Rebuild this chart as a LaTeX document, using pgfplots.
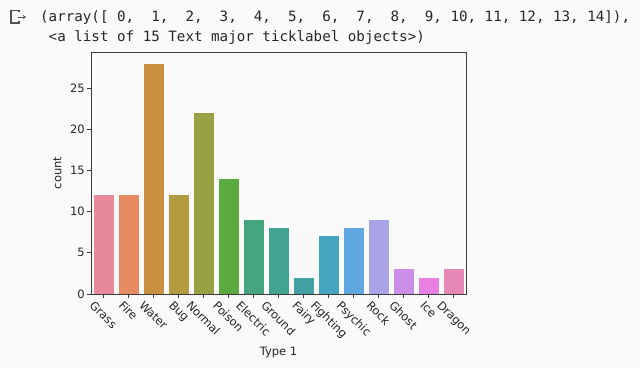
\documentclass[border=0pt]{standalone}
\usepackage{pgfplots}
\pgfplotsset{compat=1.18}
\usetikzlibrary{arrows.meta}
\usepackage{graphicx}
\usepackage{fontspec}
\setmainfont{DejaVu Sans}
\setmonofont{DejaVu Sans Mono}
\definecolor{bg}{RGB}{251,250,251}
\definecolor{txt}{HTML}{262626}
\definecolor{spine}{HTML}{3C3C3C}
\definecolor{c0}{HTML}{E8899B}
\definecolor{c1}{HTML}{E78B63}
\definecolor{c2}{HTML}{C9913F}
\definecolor{c3}{HTML}{B39B3F}
\definecolor{c4}{HTML}{98A141}
\definecolor{c5}{HTML}{5BAA3F}
\definecolor{c6}{HTML}{44A57F}
\definecolor{c7}{HTML}{43A393}
\definecolor{c8}{HTML}{42A1A2}
\definecolor{c9}{HTML}{45A5BE}
\definecolor{c10}{HTML}{60A6E0}
\definecolor{c11}{HTML}{A9A4E6}
\definecolor{c12}{HTML}{CB8EE8}
\definecolor{c13}{HTML}{E97FE0}
\definecolor{c14}{HTML}{E588B5}
\newcommand\R[1]{\rotatebox{-45}{#1}}
\begin{document}
\begin{tikzpicture}
\fill[bg] (0pt,0pt) rectangle (640pt,-368pt);
\path[use as bounding box] (0pt,0pt) rectangle (640pt,-368pt);
% output icon
\draw[txt!80, line width=1.1pt] (19pt,-12pt) -- (19pt,-10.5pt) -- (11pt,-10.5pt) -- (11pt,-23pt) -- (19pt,-23pt) -- (19pt,-21pt);
\draw[txt!80, line width=1pt, -{Stealth[length=3pt,width=4pt]}] (18pt,-17pt) -- (26pt,-17pt);
\node[anchor=base west, inner sep=0pt, text=txt, font=\ttfamily\fontsize{14.2}{16}\selectfont] at (40pt,-21pt)
 {(array([\ 0,\ \ 1,\ \ 2,\ \ 3,\ \ 4,\ \ 5,\ \ 6,\ \ 7,\ \ 8,\ \ 9,\ 10,\ 11,\ 12,\ 13,\ 14]),};
\node[anchor=base west, inner sep=0pt, text=txt, font=\ttfamily\fontsize{14.2}{16}\selectfont] at (40pt,-41pt)
 {\ <a list of 15 Text major ticklabel objects>)};
\begin{axis}[
  at={(91pt,-294pt)}, anchor=south west,
  scale only axis, width=375pt, height=242pt,
  xmin=-0.5, xmax=14.5, ymin=0, ymax=29.4,
  ybar, bar width=20pt,
  xtick={0,...,14},
  xticklabels={\R{Grass},\R{Fire},\R{Water},\R{Bug},\R{Normal},\R{Poison},\R{Electric},\R{Ground},\R{Fairy},\R{Fighting},\R{Psychic},\R{Rock},\R{Ghost},\R{Ice},\R{Dragon}},
  ytick={0,5,10,15,20,25},
  tick pos=left, tick align=outside, major tick length=4pt,
  every tick/.style={spine, line width=0.8pt},
  axis line style={spine, line width=0.8pt},
  ticklabel style={font=\fontsize{11.5}{13}\selectfont, text=txt},
  xticklabel style={anchor=north, inner sep=1pt, yshift=-1pt},
  yticklabel style={inner sep=2pt},
  /pgf/number format/assume math mode=true,
  xlabel={Type 1}, ylabel={count},
  label style={font=\fontsize{11.5}{13}\selectfont, text=txt},
  ylabel style={yshift=3pt},
  xlabel style={yshift=-2pt},
  axis background/.style={fill=bg},
]
\addplot[fill=c0, draw=none, bar shift=0pt] coordinates {(0,12)};
\addplot[fill=c1, draw=none, bar shift=0pt] coordinates {(1,12)};
\addplot[fill=c2, draw=none, bar shift=0pt] coordinates {(2,28)};
\addplot[fill=c3, draw=none, bar shift=0pt] coordinates {(3,12)};
\addplot[fill=c4, draw=none, bar shift=0pt] coordinates {(4,22)};
\addplot[fill=c5, draw=none, bar shift=0pt] coordinates {(5,14)};
\addplot[fill=c6, draw=none, bar shift=0pt] coordinates {(6,9)};
\addplot[fill=c7, draw=none, bar shift=0pt] coordinates {(7,8)};
\addplot[fill=c8, draw=none, bar shift=0pt] coordinates {(8,2)};
\addplot[fill=c9, draw=none, bar shift=0pt] coordinates {(9,7)};
\addplot[fill=c10, draw=none, bar shift=0pt] coordinates {(10,8)};
\addplot[fill=c11, draw=none, bar shift=0pt] coordinates {(11,9)};
\addplot[fill=c12, draw=none, bar shift=0pt] coordinates {(12,3)};
\addplot[fill=c13, draw=none, bar shift=0pt] coordinates {(13,2)};
\addplot[fill=c14, draw=none, bar shift=0pt] coordinates {(14,3)};
\end{axis}
\end{tikzpicture}
\end{document}
